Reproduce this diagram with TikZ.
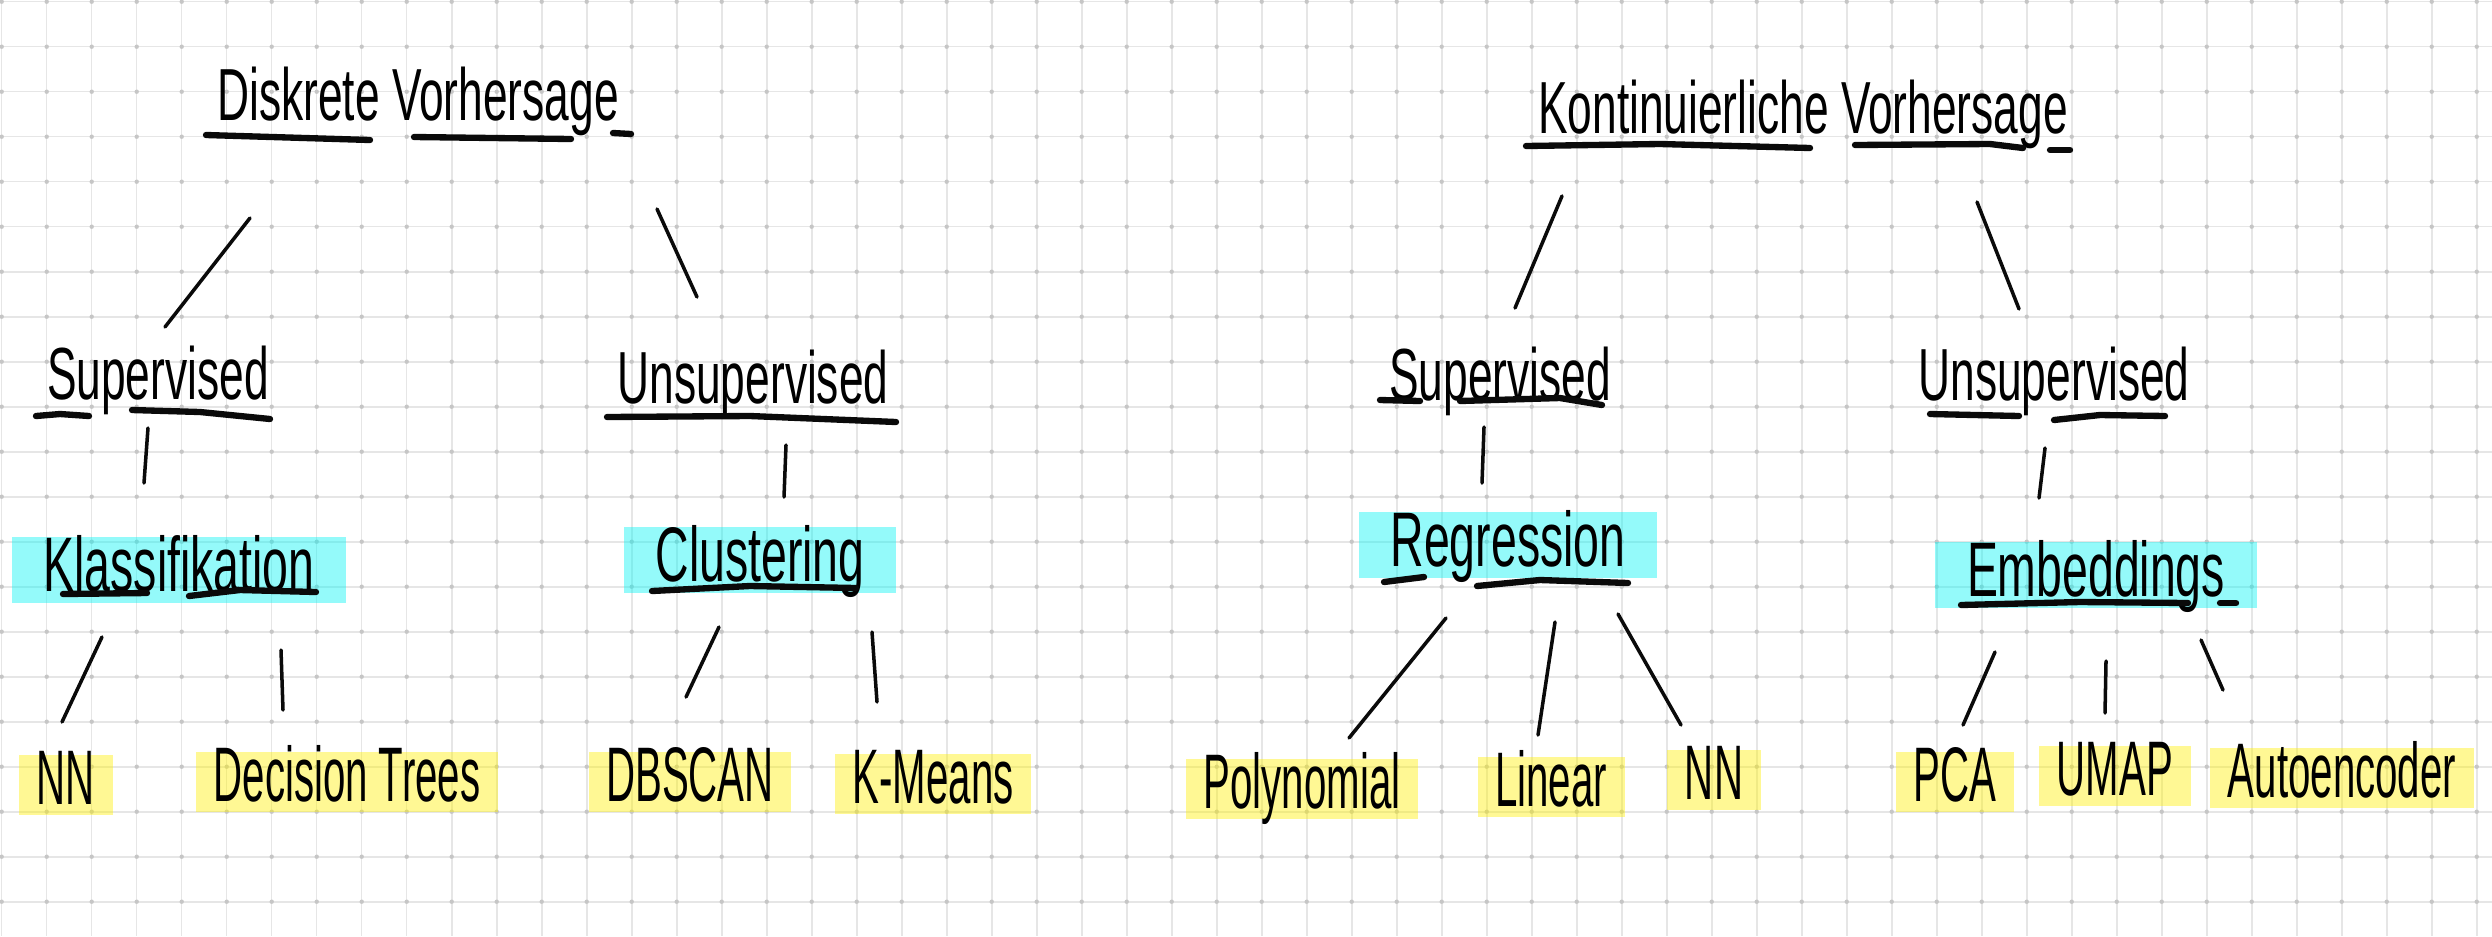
\documentclass[tikz,border=0pt]{standalone}
\usepackage{fontspec}
\usepackage{tikz}
\newfontfamily\hand{Liberation Sans}[FakeStretch=0.6]
\newfontfamily\handnarrow{Liberation Sans}[FakeStretch=0.52]
\definecolor{paperline}{HTML}{E6E6E6}
\definecolor{paperdot}{HTML}{C6C6C6}
\definecolor{inkblack}{HTML}{0A0A0A}
\definecolor{hlcyan}{HTML}{00F5F5}
\definecolor{hlyellow}{HTML}{FFF000}

\begin{document}
\begin{tikzpicture}[
  x=0.01cm, y=-0.01cm,
  gridline/.style={paperline, line width=0.45pt},
  griddot/.style={paperdot},
  title/.style={font=\fontsize{21}{24}\selectfont\hand, inner sep=0pt, text height=15pt, text depth=0pt},
  branch/.style={font=\fontsize{21}{24}\selectfont\hand, inner sep=0pt, text height=15pt, text depth=0pt},
  topic/.style={font=\fontsize{22}{26}\selectfont\hand, fill=hlcyan, fill opacity=0.42, text opacity=1, text height=13pt, text depth=1pt, inner xsep=9pt, inner ysep=2.5pt},
  method/.style={font=\fontsize{22}{26}\selectfont\handnarrow, fill=hlyellow, fill opacity=0.42, text opacity=1, text height=12pt, text depth=1pt, inner xsep=5pt, inner ysep=2pt},
  conn/.style={inkblack, line width=1pt, line cap=round},
  uline/.style={inkblack, line width=1.8pt, line cap=round}
]
% paper
\fill[white] (0,0) rectangle (2492,936);
\useasboundingbox (0,0) rectangle (2492,936);
\foreach \gx in {0,...,55}
  \draw[gridline] (1.7+45*\gx,0) -- (1.7+45*\gx,936);
\foreach \gy in {0,...,20}
  \draw[gridline] (0,1.7+45*\gy) -- (2492,1.7+45*\gy);
\foreach \gx in {0,...,55}
  \foreach \gy in {0,...,20}
    \fill[griddot] (1.7+45*\gx,1.7+45*\gy) circle[radius=2.2];

% top level
\node[title] (dv) at (418,94) {Diskrete Vorhersage};
\node[title] (kv) at (1803,107) {Kontinuierliche Vorhersage};

% supervised / unsupervised
\node[branch] (sup1) at (158,373) {Supervised};
\node[branch] (uns1) at (753,377) {Unsupervised};
\node[branch] (sup2) at (1500,374) {Supervised};
\node[branch] (uns2) at (2054,374) {Unsupervised};

% tasks
\node[topic] (kl) at (179,570) {Klassifikation};
\node[topic] (cl) at (760,560) {Clustering};
\node[topic] (rg) at (1508,545) {Regression};
\node[topic] (em) at (2096,575) {Embeddings};

% methods
\node[method] (nn1) at (66,785) {NN};
\node[method] (dt) at (347,782) {Decision Trees};
\node[method] (db) at (690,782) {DBSCAN};
\node[method] (km) at (933,784) {K-Means};
\node[method] (po) at (1302,789) {Polynomial};
\node[method] (li) at (1551,787) {Linear};
\node[method] (nn2) at (1714,780) {NN};
\node[method] (pca) at (1955,782) {PCA};
\node[method] (um) at (2115,776) {UMAP};
\node[method] (ae) at (2342,778) {Autoencoder};

% underlines
\draw[uline] (206,135) -- (370,140);
\draw[uline] (414,137) -- (571,139);
\draw[uline] (613,133) -- (631,134);
\draw[uline] (1526,146) -- (1660,144) -- (1810,148);
\draw[uline] (1855,145) -- (1990,144) -- (2023,148);
\draw[uline] (2050,150) -- (2070,150);
\draw[uline] (36,416) -- (60,414) -- (89,416);
\draw[uline] (132,410) -- (200,412) -- (270,419);
\draw[uline] (607,417) -- (750,416) -- (896,422);
\draw[uline] (1380,400) -- (1420,401);
\draw[uline] (1460,401) -- (1560,398) -- (1602,405);
\draw[uline] (1930,414) -- (2019,416);
\draw[uline] (2054,420) -- (2100,415) -- (2165,416);
\draw[uline] (63,594) -- (147,593);
\draw[uline] (189,596) -- (240,590) -- (316,592);
\draw[uline] (652,591) -- (750,586) -- (856,588);
\draw[uline] (1384,582) -- (1424,577);
\draw[uline] (1477,586) -- (1540,580) -- (1628,583);
\draw[uline] (1961,605) -- (2080,602) -- (2188,603);
\draw[uline] (2220,603) -- (2236,603);

% connectors
\draw[conn] ([shift={(-168,124)}]dv.center) -- ([shift={(7,-46)}]sup1.center);
\draw[conn] ([shift={(239,115)}]dv.center) -- ([shift={(-56,-80)}]uns1.center);
\draw[conn] ([shift={(-241,89)}]kv.center) -- ([shift={(15,-66)}]sup2.center);
\draw[conn] ([shift={(174,95)}]kv.center) -- ([shift={(-35,-65)}]uns2.center);
\draw[conn] ([shift={(-10,55)}]sup1.center) -- ([shift={(-35,-87)}]kl.center);
\draw[conn] ([shift={(33,68)}]uns1.center) -- ([shift={(24,-63)}]cl.center);
\draw[conn] ([shift={(-16,53)}]sup2.center) -- ([shift={(-26,-62)}]rg.center);
\draw[conn] ([shift={(-9,74)}]uns2.center) -- ([shift={(-57,-77)}]em.center);
\draw[conn] ([shift={(-77,67)}]kl.center) -- ([shift={(-4,-63)}]nn1.center);
\draw[conn] ([shift={(102,80)}]kl.center) -- ([shift={(-64,-72)}]dt.center);
\draw[conn] ([shift={(-41,67)}]cl.center) -- ([shift={(-4,-85)}]db.center);
\draw[conn] ([shift={(112,72)}]cl.center) -- ([shift={(-56,-82)}]km.center);
\draw[conn] ([shift={(-62,73)}]rg.center) -- ([shift={(47,-51)}]po.center);
\draw[conn] ([shift={(47,77)}]rg.center) -- ([shift={(-13,-52)}]li.center);
\draw[conn] ([shift={(110,69)}]rg.center) -- ([shift={(-33,-55)}]nn2.center);
\draw[conn] ([shift={(-101,77)}]em.center) -- ([shift={(8,-57)}]pca.center);
\draw[conn] ([shift={(10,86)}]em.center) -- ([shift={(-10,-63)}]um.center);
\draw[conn] ([shift={(105,65)}]em.center) -- ([shift={(-119,-88)}]ae.center);
\end{tikzpicture}
\end{document}
